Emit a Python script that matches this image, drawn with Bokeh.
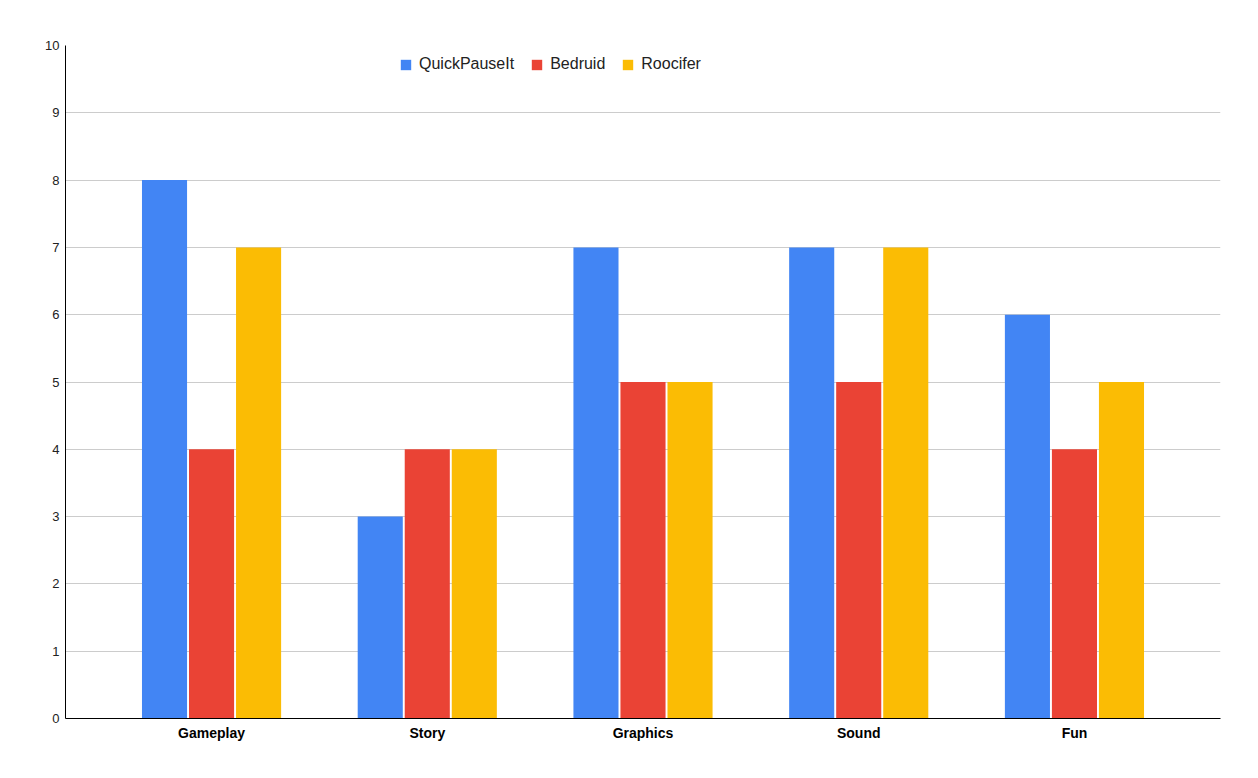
from bokeh.plotting import figure
from bokeh.models import Range1d, FixedTicker, ColumnDataSource, Legend, LegendItem
from bokeh.embed import file_html
from bokeh.resources import INLINE

categories = ["Gameplay", "Story", "Graphics", "Sound", "Fun"]
quickpauseit = [8, 3, 7, 7, 6]
bedruid = [4, 4, 5, 5, 4]
roocifer = [7, 4, 5, 7, 5]
series_names = ["QuickPauseIt", "Bedruid", "Roocifer"]
colors = ["#4285F4", "#EA4335", "#FBBC04"]
y_ticks = list(range(0, 11))

FONT = "Liberation Sans"

p = figure(width=1258, height=778, output_backend="svg", toolbar_location=None,
           x_range=Range1d(-0.677, len(categories) - 1 + 0.677),
           y_range=Range1d(0, 10))
p.min_border_left = 65
p.min_border_right = 38
p.min_border_top = 45
p.min_border_bottom = 60
p.outline_line_color = None
p.background_fill_color = "white"
p.border_fill_color = "white"

idx = list(range(len(categories)))
offsets = [-0.218, 0.0, 0.218]
bar_w = 0.209
renderers = []
for name, vals, col, off in zip(series_names, [quickpauseit, bedruid, roocifer], colors, offsets):
    src = ColumnDataSource(dict(x=[i + off for i in idx], top=vals))
    r = p.vbar(x="x", top="top", width=bar_w, source=src, fill_color=col, line_color=None)
    renderers.append((name, r))

p.xgrid.grid_line_color = None
p.ygrid.grid_line_color = "#cccccc"
p.ygrid.grid_line_width = 1
p.yaxis.ticker = FixedTicker(ticks=y_ticks)
p.xaxis.ticker = FixedTicker(ticks=idx)
p.xaxis.major_label_overrides = {i: c for i, c in zip(idx, categories)}

for ax in (p.xaxis, p.yaxis):
    ax.axis_line_color = "black"
    ax.axis_line_width = 1
    ax.major_tick_line_color = None
    ax.minor_tick_line_color = None
    ax.major_label_text_font = FONT
    ax.major_label_text_font_size = "13px"
    ax.major_label_text_color = "#222222"
p.xaxis.major_label_text_font_size = "14px"
p.xaxis.major_label_text_font_style = "bold"
p.xaxis.major_label_text_color = "black"
p.xaxis.major_label_standoff = 0
p.yaxis.major_label_standoff = 0

legend = Legend(items=[LegendItem(label=n, renderers=[r]) for n, r in renderers],
                orientation="horizontal", location=(334, 645))
legend.border_line_color = None
legend.background_fill_alpha = 0
legend.padding = 0
legend.margin = 0
legend.glyph_width = 13
legend.glyph_height = 13
legend.label_standoff = 7
legend.spacing = 16
legend.label_text_font = FONT
legend.label_text_font_size = "16px"
legend.label_text_color = "#222222"
p.add_layout(legend, "center")

open("out.html", "w").write(file_html(p, INLINE))
